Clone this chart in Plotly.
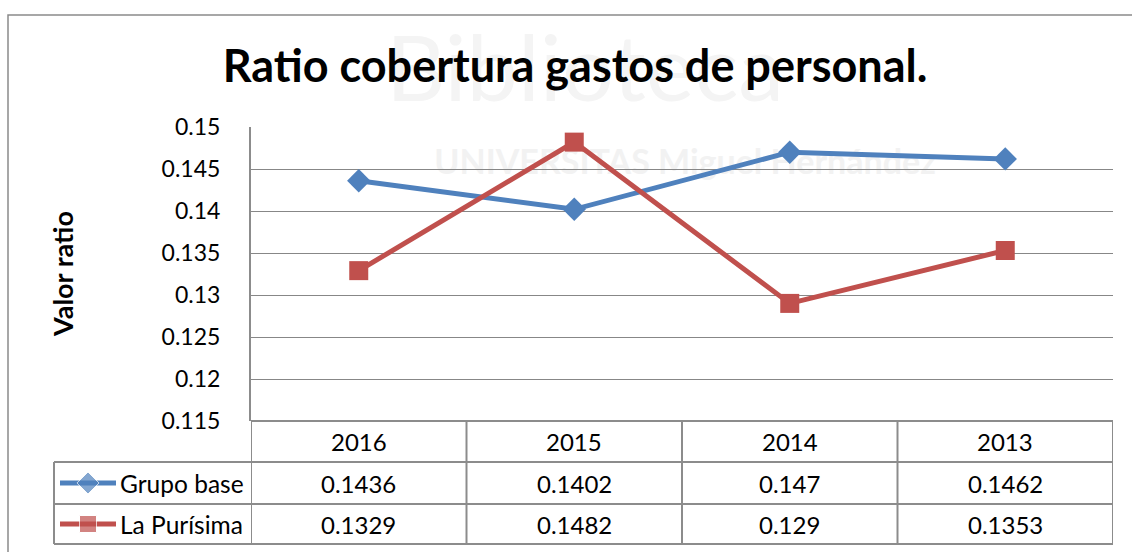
import plotly.graph_objects as go

# ---- data ----
years = ["2016", "2015", "2014", "2013"]
grupo_base = [0.1436, 0.1402, 0.147, 0.1462]
la_purisima = [0.1329, 0.1482, 0.129, 0.1353]
series_names = ["Grupo base", "La Purísima"]
y_ticks = [0.115, 0.12, 0.125, 0.13, 0.135, 0.14, 0.145, 0.15]

W, H = 1132, 552
FONT = "Lato"
BLUE = "#4F81BD"
RED = "#C0504D"
GRID = "#878787"
BORDER = "#8C8C8C"
TXT = 24


def px(x):
    return x / W


def py(y):
    return 1 - y / H


PLOT_L, PLOT_R, PLOT_T, PLOT_B = 251, 1113, 127, 421
ROW_Y = [421, 462, 504, 544]   # table row borders (pixels)
KEY_L = 54

fig = go.Figure()

fig.add_trace(go.Scatter(
    x=years, y=grupo_base, name=series_names[0], mode="lines+markers",
    line=dict(color=BLUE, width=5),
    marker=dict(symbol="diamond", size=18, color=BLUE),
    cliponaxis=False, showlegend=False))
fig.add_trace(go.Scatter(
    x=years, y=la_purisima, name=series_names[1], mode="lines+markers",
    line=dict(color=RED, width=5),
    marker=dict(symbol="square", size=19, color=RED),
    cliponaxis=False, showlegend=False))

# legend keys inside the data table (overlay axis in pixel space)
key_x = (60 + 116) / 2
row_centers = [(ROW_Y[1] + ROW_Y[2]) / 2, (ROW_Y[2] + ROW_Y[3]) / 2]
for name, color, sym, size, yc in [
        (series_names[0], BLUE, "diamond", 17, row_centers[0]),
        (series_names[1], RED, "square", 17, row_centers[1])]:
    fig.add_trace(go.Scatter(
        x=[60, key_x, 116], y=[yc, yc, yc], mode="lines+markers",
        line=dict(color=color, width=5),
        marker=dict(symbol=sym, size=[0, size, 0], color=color),
        xaxis="x2", yaxis="y2", showlegend=False, hoverinfo="skip",
        cliponaxis=False))

shapes = []
annotations = []

# outer chart border
shapes.append(dict(type="rect", xref="paper", yref="paper",
                   x0=px(8), x1=px(W + 5), y0=py(H + 5), y1=py(15),
                   line=dict(color="#8A8A8A", width=1.5), layer="below"))

# faint watermark
shapes.append(dict(type="rect", xref="paper", yref="paper",
                   x0=px(200), x1=px(970), y0=py(124), y1=py(4),
                   line=dict(width=0), fillcolor="rgba(0,0,0,0)", layer="below",
                   label=dict(text="Biblioteca", font=dict(family="Lato", size=92, color="#F4F4F4"),
                              textposition="middle center")))
shapes.append(dict(type="rect", xref="paper", yref="paper",
                   x0=px(410), x1=px(960), y0=py(180), y1=py(140),
                   line=dict(width=0), fillcolor="rgba(0,0,0,0)", layer="below",
                   label=dict(text="UNIVERSITAS Miguel Hernández",
                              font=dict(family="Lato", size=34, color="#F2F2F2", weight="bold"),
                              textposition="middle center")))

# table horizontal borders
for i, yy in enumerate(ROW_Y):
    x0 = PLOT_L if i == 0 else KEY_L
    shapes.append(dict(type="line", xref="paper", yref="paper",
                       x0=px(x0), x1=px(PLOT_R), y0=py(yy), y1=py(yy),
                       line=dict(color=BORDER, width=2)))
# table vertical borders (category boundaries on the x scale)
for k in range(len(years) + 1):
    shapes.append(dict(type="line", xref="x", yref="paper",
                       x0=k - 0.5, x1=k - 0.5, y0=py(ROW_Y[3]), y1=py(ROW_Y[0]),
                       line=dict(color=BORDER, width=2)))
shapes.append(dict(type="line", xref="paper", yref="paper",
                   x0=px(KEY_L), x1=px(KEY_L), y0=py(ROW_Y[3]), y1=py(ROW_Y[1]),
                   line=dict(color=BORDER, width=2)))

# table values
for vals, yc in [(grupo_base, row_centers[0]), (la_purisima, row_centers[1])]:
    for i, v in enumerate(vals):
        annotations.append(dict(x=i, xref="x", y=py(yc), yref="paper",
                                text=f"{v:g}", showarrow=False,
                                font=dict(family=FONT, size=TXT, color="#000000"),
                                xanchor="center", yanchor="middle"))
# header row (years)
for i, yr in enumerate(years):
    annotations.append(dict(x=i, xref="x", y=py((ROW_Y[0] + ROW_Y[1]) / 2), yref="paper",
                            text=yr, showarrow=False,
                            font=dict(family=FONT, size=TXT, color="#000000"),
                            xanchor="center", yanchor="middle"))
# series names in table
for name, yc in zip(series_names, row_centers):
    annotations.append(dict(x=px(118), xref="paper", y=py(yc), yref="paper",
                            text=name, showarrow=False,
                            font=dict(family=FONT, size=24.5, color="#000000"),
                            xanchor="left", yanchor="middle"))

# y axis title
annotations.append(dict(x=px(62), xref="paper", y=py(274), yref="paper",
                        text="Valor ratio", textangle=-90, showarrow=False,
                        font=dict(family=FONT, size=27, color="#000000", weight="bold"),
                        xanchor="center", yanchor="middle"))

fig.update_layout(
    width=W, height=H, autosize=False,
    margin=dict(l=0, r=0, t=0, b=0, pad=0),
    paper_bgcolor="white", plot_bgcolor="rgba(0,0,0,0)",
    font=dict(family=FONT, size=TXT, color="#000000"),
    title=dict(text="Ratio cobertura gastos de personal.",
               x=px(575), xanchor="center", y=py(66), yanchor="middle",
               font=dict(family=FONT, size=45, color="#000000", weight="bold")),
    xaxis=dict(domain=[px(PLOT_L), px(PLOT_R)], type="category",
               categoryorder="array", categoryarray=years,
               range=[-0.5, len(years) - 0.5], showgrid=False, showticklabels=False,
               showline=False, zeroline=False, ticks="", automargin=False),
    yaxis=dict(domain=[py(PLOT_B), py(PLOT_T)], range=[y_ticks[0], y_ticks[-1]],
               tickvals=y_ticks, showgrid=True, gridcolor=GRID, gridwidth=1.3,
               showline=True, linecolor=BORDER, linewidth=2, zeroline=False,
               ticks="", ticklabelstandoff=24, automargin=False,
               tickfont=dict(family=FONT, size=23, color="#000000")),
    xaxis2=dict(domain=[0, 1], range=[0, W], visible=False, fixedrange=True,
                automargin=False, anchor="y2"),
    yaxis2=dict(domain=[0, 1], range=[H, 0], visible=False, fixedrange=True,
                anchor="x2", automargin=False),
    shapes=shapes, annotations=annotations, showlegend=False,
)
fig.data[2].update(xaxis="x2", yaxis="y2")
fig.data[3].update(xaxis="x2", yaxis="y2")

fig.write_html("out.html", config={"displayModeBar": False},
               post_script="document.body.style.margin='0';")
